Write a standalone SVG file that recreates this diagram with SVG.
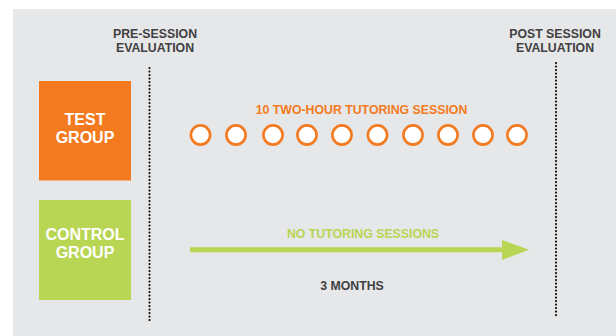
<svg xmlns="http://www.w3.org/2000/svg" width="616" height="336" viewBox="0 0 616 336">
<style>
.t{font-family:"Liberation Sans",Arial,sans-serif;font-weight:bold;text-anchor:middle}
.s{font-size:12.3px}
.h{fill:#414042}
.w{font-size:16px;fill:#ffffff}
.dot{stroke:#111;stroke-width:2.2;stroke-dasharray:0.1 3.4;stroke-linecap:round;fill:none}
.c{fill:#fff;stroke:#f47a20;stroke-width:2.6}
</style>
<rect width="616" height="336" fill="#ffffff"/>
<rect x="13" y="9" width="603" height="327" fill="#e6e7e8"/>
<g id="pre-eval">
<text class="t s h" x="155" y="37.5">PRE-SESSION</text>
<text class="t s h" x="155" y="52">EVALUATION</text>
</g>
<g id="post-eval">
<text class="t s h" x="555" y="37.5">POST SESSION</text>
<text class="t s h" x="555" y="52">EVALUATION</text>
</g>
<g id="test-group">
<rect x="39" y="81" width="92" height="99.5" fill="#f47a20"/>
<text class="t w" x="85" y="125">TEST</text>
<text class="t w" x="85" y="143">GROUP</text>
</g>
<g id="control-group">
<rect x="39" y="200" width="92" height="100" fill="#b8d553"/>
<text class="t w" x="85" y="240">CONTROL</text>
<text class="t w" x="85" y="258">GROUP</text>
</g>
<g id="sessions">
<text class="t s" x="361.5" y="114" fill="#f47a20">10 TWO-HOUR TUTORING SESSION</text>
<ellipse class="c" cx="200.5" cy="135" rx="9.6" ry="9.6"/>
<ellipse class="c" cx="236" cy="135" rx="9.6" ry="9.6"/>
<ellipse class="c" cx="273" cy="135" rx="9.6" ry="9.6"/>
<ellipse class="c" cx="307" cy="135" rx="9.6" ry="9.6"/>
<ellipse class="c" cx="342" cy="135" rx="9.6" ry="9.6"/>
<ellipse class="c" cx="377.5" cy="135" rx="9.6" ry="9.6"/>
<ellipse class="c" cx="413" cy="135" rx="9.6" ry="9.6"/>
<ellipse class="c" cx="448" cy="135" rx="9.6" ry="9.6"/>
<ellipse class="c" cx="483" cy="135" rx="9.6" ry="9.6"/>
<ellipse class="c" cx="517" cy="135" rx="9.6" ry="9.6"/>
</g>
<g id="no-sessions">
<text class="t s" x="363" y="238" fill="#b8d553">NO TUTORING SESSIONS</text>
<text class="t s h" x="352" y="290">3 MONTHS</text>
</g>
<g id="connectors">
<line class="dot" x1="149.5" y1="68" x2="149.5" y2="320.5"/>
<line class="dot" x1="556" y1="63" x2="556" y2="317"/>
<line x1="190" y1="249.7" x2="506" y2="249.7" stroke="#b8d553" stroke-width="5"/>
<polygon points="502,240 529,249.7 502,260" fill="#b8d553"/>
</g>
</svg>
